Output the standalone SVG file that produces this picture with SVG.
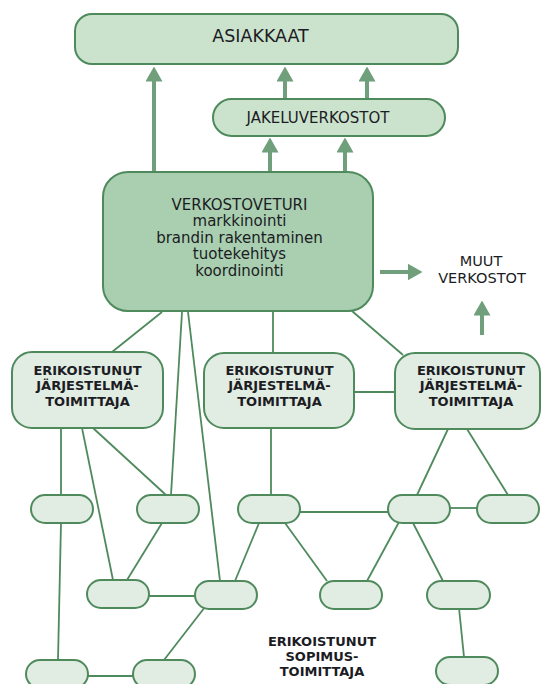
<svg xmlns="http://www.w3.org/2000/svg" width="541" height="684" viewBox="0 0 541 684">
<style>
.box{stroke:#4f8a5d;stroke-width:2}
.mid{fill:#cbe2cd}
.main{fill:#a9cfb0}
.lt{fill:#e1ece2}
.t{font-family:"DejaVu Sans",Verdana,sans-serif;fill:#1c1c24;text-anchor:middle}
.b{font-weight:bold;font-size:13px}
.con line{stroke:#4f8a5d;stroke-width:1.8;fill:none}
.arr line{stroke:#6f9f7b;stroke-width:4;marker-end:url(#ah)}
</style>
<defs>
<marker id="ah" viewBox="0 0 15 17" refX="0.5" refY="8.5" markerWidth="15" markerHeight="17" markerUnits="userSpaceOnUse" orient="auto">
<path d="M0,0 L15,8.5 L0,17 z" fill="#6f9f7b"/>
</marker>
</defs>
<rect width="541" height="684" fill="#ffffff"/>
<g id="connectors">
<g class="arr">
<line x1="154" y1="172" x2="154" y2="81"/>
<line x1="285" y1="99" x2="285" y2="81"/>
<line x1="367" y1="99" x2="367" y2="81"/>
<line x1="270" y1="172" x2="270" y2="152"/>
<line x1="345" y1="172" x2="345" y2="152"/>
<line x1="380" y1="272" x2="408" y2="272"/>
<line x1="482" y1="335" x2="482" y2="315"/>
</g>
<g class="con">
<line x1="162" y1="312" x2="112" y2="352"/>
<line x1="182" y1="312" x2="171" y2="495"/>
<line x1="188" y1="312" x2="220" y2="581"/>
<line x1="273" y1="312" x2="273" y2="353"/>
<line x1="352" y1="311" x2="403" y2="355"/>
<line x1="354" y1="392" x2="395" y2="392"/>
<line x1="61" y1="428" x2="61" y2="495"/>
<line x1="82" y1="428" x2="113" y2="580"/>
<line x1="93" y1="428" x2="166" y2="495"/>
<line x1="271" y1="428" x2="271" y2="495"/>
<line x1="448" y1="429" x2="417" y2="495"/>
<line x1="467" y1="429" x2="508" y2="495"/>
<line x1="61" y1="523" x2="58" y2="660"/>
<line x1="162" y1="523" x2="127" y2="580"/>
<line x1="149" y1="596" x2="195" y2="596"/>
<line x1="259" y1="523" x2="235" y2="581"/>
<line x1="205" y1="607" x2="164" y2="660"/>
<line x1="88" y1="676" x2="133" y2="676"/>
<line x1="300" y1="512" x2="388" y2="512"/>
<line x1="450" y1="508" x2="477" y2="508"/>
<line x1="285" y1="523" x2="327" y2="581"/>
<line x1="399" y1="522" x2="367" y2="581"/>
<line x1="413" y1="523" x2="443" y2="581"/>
<line x1="459" y1="608" x2="464" y2="657"/>
</g>
</g>
<g id="asiakkaat">
<rect class="box mid" x="75" y="14" width="383" height="50" rx="17"/>
<text class="t" x="260.5" y="42.4" font-size="17.5">ASIAKKAAT</text>
</g>
<g id="jakeluverkostot">
<rect class="box mid" x="213" y="99" width="232" height="37" rx="18.5"/>
<text class="t" x="318" y="122.5" font-size="15">JAKELUVERKOSTOT</text>
</g>
<g id="verkostoveturi">
<rect class="box main" x="103" y="172" width="270" height="139" rx="25"/>
<text class="t" font-size="15"><tspan x="239.5" y="209.5">VERKOSTOVETURI</tspan><tspan x="239.5" y="226">markkinointi</tspan><tspan x="239.5" y="242.5">brandin rakentaminen</tspan><tspan x="239.5" y="259">tuotekehitys</tspan><tspan x="239.5" y="275.5">koordinointi</tspan></text>
</g>
<g id="muut-verkostot">
<text class="t" font-size="14.5"><tspan x="481" y="266.3">MUUT</tspan><tspan x="482" y="283.3">VERKOSTOT</tspan></text>
</g>
<g id="jarjestelmatoimittaja-1">
<rect class="box lt" x="12" y="352" width="151" height="76" rx="20"/>
<text class="t b"><tspan x="87.5" y="374.7">ERIKOISTUNUT</tspan><tspan x="87.5" y="390.2">JÄRJESTELMÄ-</tspan><tspan x="87.5" y="405.7">TOIMITTAJA</tspan></text>
</g>
<g id="jarjestelmatoimittaja-2">
<rect class="box lt" x="204" y="353" width="150" height="75" rx="20"/>
<text class="t b"><tspan x="279.5" y="374.7">ERIKOISTUNUT</tspan><tspan x="279.5" y="390.2">JÄRJESTELMÄ-</tspan><tspan x="279.5" y="405.7">TOIMITTAJA</tspan></text>
</g>
<g id="jarjestelmatoimittaja-3">
<rect class="box lt" x="395" y="353" width="145" height="76" rx="20"/>
<text class="t b"><tspan x="471" y="374.7">ERIKOISTUNUT</tspan><tspan x="471" y="390.2">JÄRJESTELMÄ-</tspan><tspan x="471" y="405.7">TOIMITTAJA</tspan></text>
</g>
<g id="sopimustoimittaja-1"><rect class="box lt" x="31" y="495" width="62" height="28" rx="14"/></g>
<g id="sopimustoimittaja-2"><rect class="box lt" x="137" y="495" width="62" height="28" rx="14"/></g>
<g id="sopimustoimittaja-3"><rect class="box lt" x="238" y="495" width="62" height="28" rx="14"/></g>
<g id="sopimustoimittaja-4"><rect class="box lt" x="388" y="495" width="62" height="28" rx="14"/></g>
<g id="sopimustoimittaja-5"><rect class="box lt" x="477" y="495" width="62" height="28" rx="14"/></g>
<g id="sopimustoimittaja-6"><rect class="box lt" x="87" y="580" width="62" height="28" rx="14"/></g>
<g id="sopimustoimittaja-7"><rect class="box lt" x="195" y="581" width="62" height="28" rx="14"/></g>
<g id="sopimustoimittaja-8"><rect class="box lt" x="320" y="581" width="62" height="28" rx="14"/></g>
<g id="sopimustoimittaja-9"><rect class="box lt" x="427" y="581" width="63" height="28" rx="14"/></g>
<g id="sopimustoimittaja-10"><rect class="box lt" x="26" y="660" width="62" height="28" rx="14"/></g>
<g id="sopimustoimittaja-11"><rect class="box lt" x="133" y="660" width="62" height="28" rx="14"/></g>
<g id="sopimustoimittaja-12"><rect class="box lt" x="436" y="657" width="62" height="28" rx="14"/></g>
<g id="sopimustoimittaja-label">
<text class="t b"><tspan x="322" y="645.7">ERIKOISTUNUT</tspan><tspan x="322" y="660.7">SOPIMUS-</tspan><tspan x="322" y="675.7">TOIMITTAJA</tspan></text>
</g>
</svg>
